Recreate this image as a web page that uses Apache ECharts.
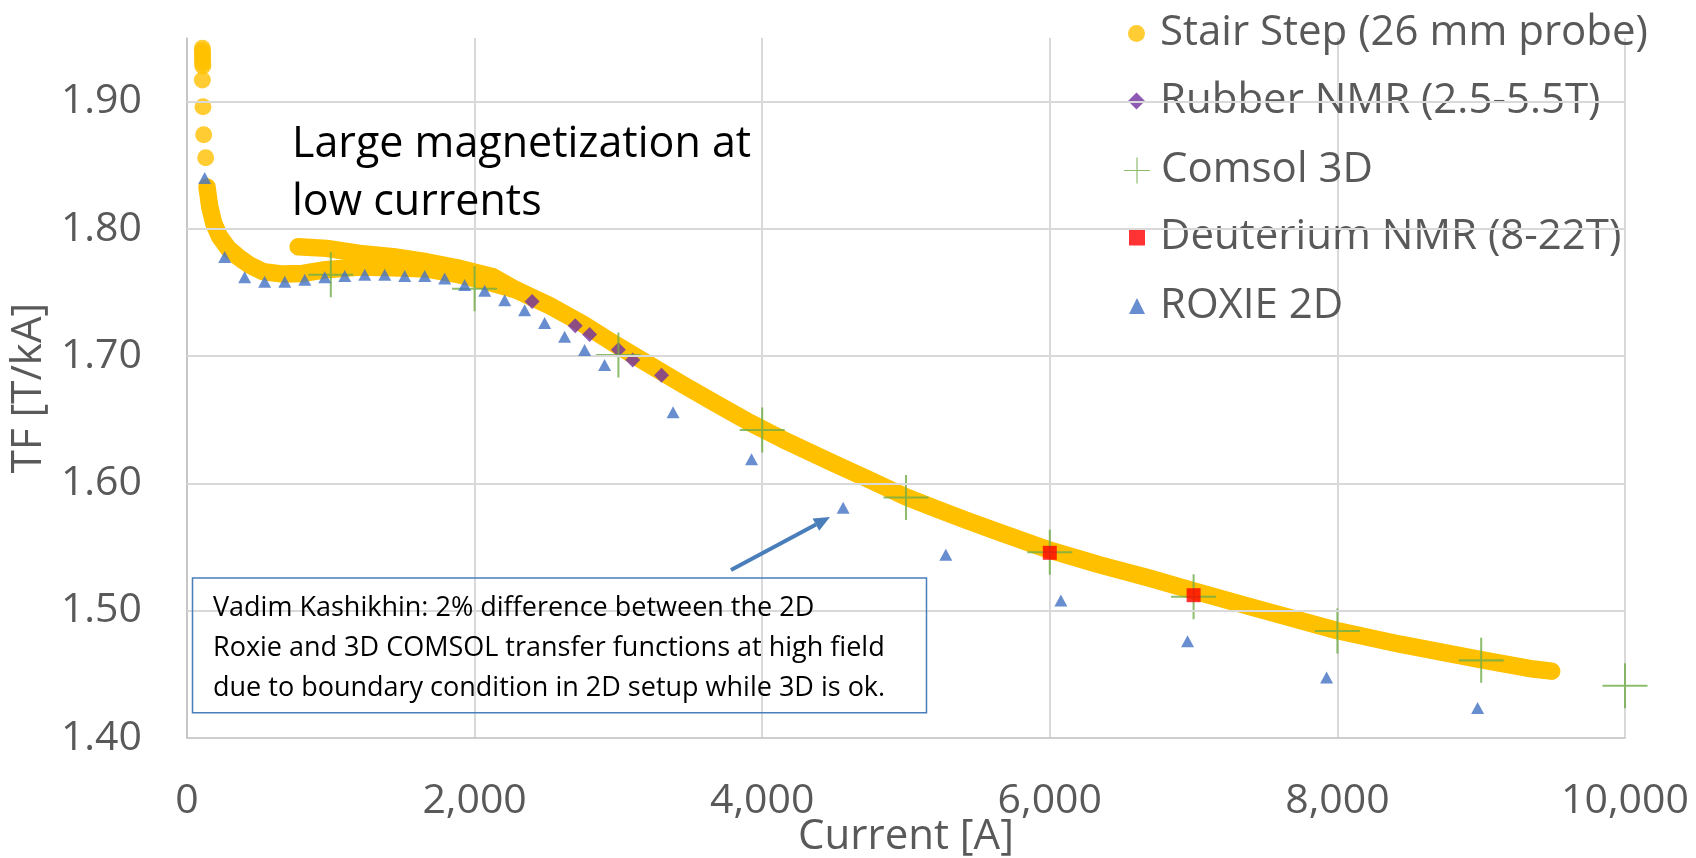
<!DOCTYPE html>
<html>
<head>
<meta charset="utf-8">
<script src="https://cdn.jsdelivr.net/npm/echarts@6/dist/echarts.min.js"></script>
<style>
  html, body { margin: 0; padding: 0; background: #ffffff; }
  #chart { width: 1696px; height: 858px; }
</style>
</head>
<body>
<div id="chart"></div>
<script>
// ---- Transfer function data: current [A] vs TF [T/kA] ----

// Stair step probe: near-vertical spike of readings at the lowest current
const stairSpikeCurrent = [107, 107, 108, 108, 108, 109, 109, 110, 107, 111, 116, 130];
const stairSpikeTF      = [1.942, 1.940, 1.938, 1.936, 1.934, 1.932, 1.930, 1.928, 1.917, 1.896, 1.874, 1.856];

// Stair step probe: lower branch after the spike
const stairRampCurrent = [139, 158, 186, 227, 286, 355, 436, 529, 668, 807, 946, 1201, 1433, 1665, 1897, 2100, 2291];
const stairRampTF      = [1.833, 1.8175, 1.8044, 1.7939, 1.7847, 1.7781, 1.7716, 1.7664, 1.7645, 1.7650, 1.7677, 1.7700, 1.7695, 1.7685, 1.7638, 1.7580, 1.7520];

// Stair step probe: main branch up to the highest current
const stairMainCurrent = [773, 970, 1201, 1433, 1665, 1897, 2128, 2291, 2523, 2755, 2987, 3219, 3450, 3682, 3914, 4145, 4493, 4725, 4999, 5189, 5421, 5653, 6000, 6348, 6696, 7000, 7391, 7995, 8435, 8996, 9362, 9490];
const stairMainTF      = [1.7860, 1.7847, 1.7808, 1.7782, 1.7742, 1.7690, 1.7624, 1.7520, 1.7396, 1.7252, 1.7087, 1.6930, 1.6775, 1.6625, 1.6478, 1.6345, 1.6160, 1.6040, 1.5895, 1.5810, 1.5710, 1.5615, 1.5476, 1.5360, 1.5255, 1.5156, 1.5032, 1.4845, 1.4737, 1.4616, 1.4542, 1.4525];

// Rubber NMR (2.5-5.5 T)
const rubberCurrent = [2400, 2700, 2800, 3000, 3100, 3300];
const rubberTF      = [1.743, 1.724, 1.717, 1.705, 1.697, 1.685];

// Comsol 3D
const comsolCurrent = [1000, 2000, 3000, 4000, 5000, 6000, 7000, 8000, 9000, 10000];
const comsolTF      = [1.764, 1.753, 1.701, 1.642, 1.589, 1.546, 1.511, 1.484, 1.461, 1.441];

// Deuterium NMR (8-22 T)
const deuteriumCurrent = [6000, 7000];
const deuteriumTF      = [1.5455, 1.5122];

// ROXIE 2D
const roxieCurrent = [123, 262, 401, 540, 680, 819, 958, 1097, 1236, 1375, 1514, 1653, 1792, 1931, 2070, 2209, 2348, 2487, 2626, 2765, 2904, 3380, 3926, 4563, 5277, 6077, 6958, 7925, 8975];
const roxieTF      = [1.840, 1.778, 1.762, 1.7585, 1.7585, 1.760, 1.762, 1.763, 1.764, 1.764, 1.763, 1.763, 1.761, 1.756, 1.7514, 1.744, 1.736, 1.726, 1.7153, 1.7048, 1.693, 1.656, 1.619, 1.581, 1.544, 1.508, 1.476, 1.4475, 1.4236];

// Axis ticks
const xTicks = { min: 0, max: 10000, step: 2000 };
const yTicks = { min: 1.4, max: 1.95, step: 0.1 };
const yGridValues = [1.5, 1.6, 1.7, 1.8, 1.9];

// Series names
const NAME_STAIR = 'Stair Step (26 mm probe)';
const NAME_RUBBER = 'Rubber NMR (2.5-5.5T)';
const NAME_COMSOL = 'Comsol 3D';
const NAME_DEUT = 'Deuterium NMR (8-22T)';
const NAME_ROXIE = 'ROXIE 2D';

const zip = (xs, ys) => xs.map((x, i) => [x, ys[i]]);

const FONT = 'Open Sans';
const GREY_TEXT = '#595959';
const GRID_COLOR = '#d9d9d9';
const YELLOW = '#ffc000';
const crossPath = 'path://M-1,-0.045L1,-0.045L1,0.045L-1,0.045Z M-0.045,-1L0.045,-1L0.045,1L-0.045,1Z';

const chart = echarts.init(document.getElementById('chart'), null, { renderer: 'canvas' });

const legendText = (padLeft) => ({
  fontFamily: FONT, fontSize: 42, color: GREY_TEXT, lineHeight: 42, padding: [0, 0, 0, padLeft]
});

const option = {
  animation: false,
  backgroundColor: '#ffffff',
  grid: { left: 187, right: 71, top: 38, bottom: 120, containLabel: false, outerBoundsMode: 'none' },
  legend: [
    {
      orient: 'vertical', left: 1123, top: 7.5, itemWidth: 17, itemHeight: 17, itemGap: 25.5,
      selectedMode: false, textStyle: legendText(10),
      data: [{ name: NAME_STAIR, icon: 'circle' }, { name: NAME_RUBBER, icon: 'diamond' }]
    },
    {
      orient: 'vertical', left: 1119, top: 144.5, itemWidth: 26, itemHeight: 26, itemGap: 22.5,
      selectedMode: false, textStyle: legendText(6),
      data: [{ name: NAME_COMSOL, icon: crossPath }]
    },
    {
      orient: 'vertical', left: 1124, top: 211.5, itemWidth: 16, itemHeight: 16, itemGap: 26.5,
      selectedMode: false, textStyle: legendText(10),
      data: [{ name: NAME_DEUT, icon: 'rect' }, { name: NAME_ROXIE, icon: 'triangle' }]
    }
  ],
  xAxis: {
    type: 'value', min: xTicks.min, max: xTicks.max, interval: xTicks.step,
    axisLine: { show: true, lineStyle: { color: '#bfbfbf', width: 1.5 } },
    axisTick: { show: false },
    splitLine: { show: true, lineStyle: { color: GRID_COLOR, width: 2 } },
    axisLabel: {
      formatter: (v) => v.toLocaleString('en-US'),
      fontFamily: FONT, fontSize: 41, color: GREY_TEXT, margin: 43
    },
    name: 'Current [A]', nameLocation: 'middle', nameGap: 78.5, nameMoveOverlap: false,
    nameTextStyle: { fontFamily: FONT, fontSize: 42, color: GREY_TEXT }
  },
  yAxis: {
    type: 'value', min: yTicks.min, max: yTicks.max, interval: yTicks.step,
    axisLine: { show: true, lineStyle: { color: '#bfbfbf', width: 1.5 } },
    axisTick: { show: false },
    splitLine: { show: false },
    axisLabel: {
      formatter: (v) => v.toFixed(2), showMaxLabel: false,
      fontFamily: FONT, fontSize: 41, color: GREY_TEXT, margin: 45
    },
    name: 'TF [T/kA]', nameLocation: 'middle', nameGap: 110.5, nameRotate: 90,
    nameTextStyle: { fontFamily: FONT, fontSize: 42, color: GREY_TEXT }
  },
  series: [
    {
      // horizontal gridlines at the labelled ticks
      name: 'gridlines', type: 'line', data: [], z: 0, silent: true,
      markLine: {
        silent: true, symbol: ['none', 'none'], animation: false,
        label: { show: false },
        lineStyle: { color: GRID_COLOR, width: 2, type: 'solid' },
        data: yGridValues.map((v) => ({ yAxis: v }))
      }
    },
    {
      name: NAME_STAIR, type: 'scatter', z: 2, data: zip(stairSpikeCurrent, stairSpikeTF),
      symbol: 'circle', symbolSize: 17, itemStyle: { color: YELLOW }
    },
    {
      name: NAME_STAIR, type: 'line', z: 2, data: zip(stairRampCurrent, stairRampTF),
      symbol: 'none', smooth: false, itemStyle: { color: YELLOW },
      lineStyle: { color: YELLOW, width: 17.5, cap: 'round', join: 'round' }
    },
    {
      name: NAME_STAIR, type: 'line', z: 2, data: zip(stairMainCurrent, stairMainTF),
      symbol: 'none', smooth: false, itemStyle: { color: YELLOW },
      lineStyle: { color: YELLOW, width: 17.5, cap: 'round', join: 'round' }
    },
    {
      name: NAME_RUBBER, type: 'scatter', z: 3, data: zip(rubberCurrent, rubberTF),
      symbol: 'diamond', symbolSize: 15, itemStyle: { color: '#7030a0' }
    },
    {
      name: NAME_COMSOL, type: 'scatter', z: 4, data: zip(comsolCurrent, comsolTF),
      symbol: crossPath, symbolSize: 45, itemStyle: { color: '#70ad47' }
    },
    {
      name: NAME_DEUT, type: 'scatter', z: 5, data: zip(deuteriumCurrent, deuteriumTF),
      symbol: 'rect', symbolSize: 14, itemStyle: { color: '#ff0000' }
    },
    {
      name: NAME_ROXIE, type: 'scatter', z: 6, data: zip(roxieCurrent, roxieTF),
      symbol: 'triangle', symbolSize: [13, 12], itemStyle: { color: '#4472c4' }
    }
  ],
  graphic: [
    {
      type: 'text', left: 292, top: 115.5, z: 10,
      style: {
        text: 'Large magnetization at\nlow currents',
        font: '43px "Open Sans"', lineHeight: 58, fill: '#000000'
      }
    },
    {
      type: 'rect', z: 10,
      shape: { x: 192.5, y: 578, width: 734, height: 134.7 },
      style: { fill: 'none', stroke: '#4a7ebb', lineWidth: 1.5 }
    },
    {
      type: 'text', left: 213, top: 588, z: 10,
      style: {
        text: 'Vadim Kashikhin: 2% difference between the 2D\nRoxie and 3D COMSOL transfer functions at high field\ndue to boundary condition in 2D setup while 3D is ok.',
        font: '27px "Open Sans"', lineHeight: 40, fill: '#000000'
      }
    },
    {
      type: 'line', z: 10,
      shape: { x1: 731, y1: 570, x2: 816, y2: 524.6 },
      style: { stroke: '#4a7ebb', lineWidth: 4 }
    },
    {
      type: 'polygon', z: 10,
      shape: { points: [[830, 517], [819.2, 530.8], [812.6, 518.4]] },
      style: { fill: '#4a7ebb' }
    }
  ]
};

chart.setOption(option);
</script>
</body>
</html>
